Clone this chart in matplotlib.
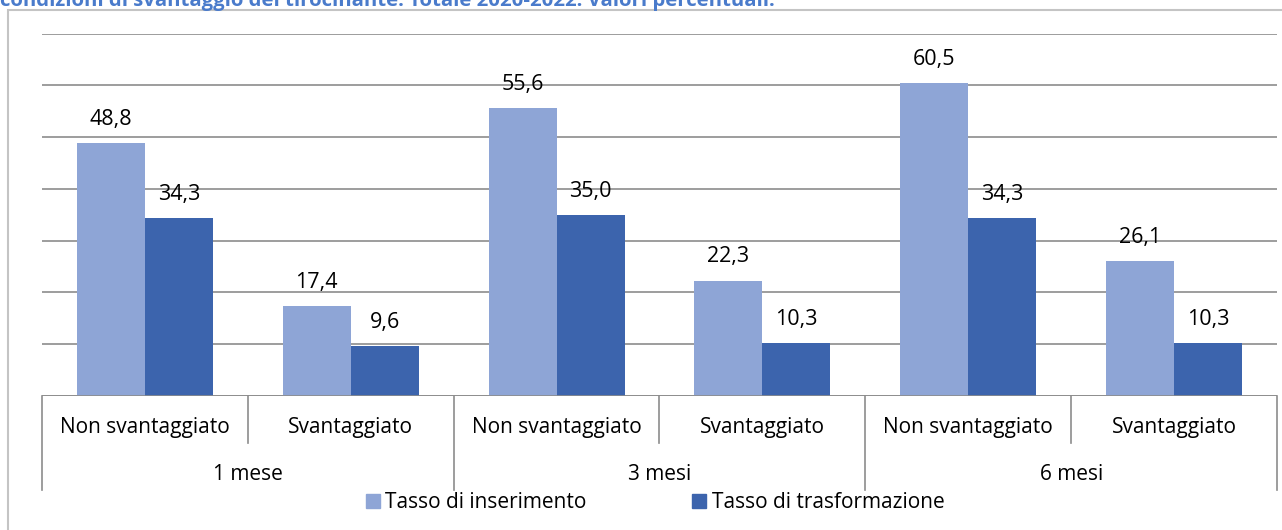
import matplotlib
matplotlib.use("Agg")
import matplotlib.pyplot as plt
from matplotlib.patches import Patch, Rectangle
from matplotlib.lines import Line2D
import numpy as np

plt.rcParams['font.family'] = ['Open Sans', 'DejaVu Sans']

periods = ["1 mese", "3 mesi", "6 mesi"]
conditions = ["Non svantaggiato", "Svantaggiato"]
series_names = ["Tasso di inserimento", "Tasso di trasformazione"]
inserimento = [48.8, 17.4, 55.6, 22.3, 60.5, 26.1]
trasformazione = [34.3, 9.6, 35.0, 10.3, 34.3, 10.3]
title = "condizioni di svantaggio del tirocinante. Totale 2020-2022. Valori percentuali."

c_light = "#8EA5D6"
c_dark = "#3C64AD"
grid_c = "#8C8C8C"

W, H = 1282, 530
fig = plt.figure(figsize=(W / 100, H / 100), dpi=100)

# outer chart frame
fig.patches.append(Rectangle((8 / W, -0.05), 1.2, 1 - 10 / H + 0.05,
                             transform=fig.transFigure, fill=False,
                             edgecolor="#C4C4C4", lw=1.5))

fig.text(0 / W, 1 - 6 / H, title, ha="left", va="baseline",
         fontsize=14.7, fontweight="bold", color="#4A7BCB")

left, right = 42 / W, 1277 / W
bottom = (H - 396) / H
top = (H - 33.6) / H
ax = fig.add_axes([left, bottom, right - left, top - bottom])

n = len(inserimento)
x = np.arange(n)
bw = 0.33
b1 = ax.bar(x - bw / 2, inserimento, bw, color=c_light, zorder=3)
b2 = ax.bar(x + bw / 2, trasformazione, bw, color=c_dark, zorder=3)

for bars, vals in ((b1, inserimento), (b2, trasformazione)):
    for rect, v in zip(bars, vals):
        ax.annotate(f"{v:.1f}".replace(".", ","),
                    (rect.get_x() + rect.get_width() / 2, v),
                    xytext=(0, 13), textcoords="offset points",
                    ha="center", va="baseline", fontsize=15.5, color="#000000")

ax.set_xlim(-0.5, n - 0.5)
ax.set_ylim(0, 70)
ax.set_yticks(np.arange(0, 71, 10))
ax.yaxis.grid(True, color=grid_c, lw=1.2, zorder=0)
ax.tick_params(left=False, labelleft=False, bottom=False, labelbottom=False)
for s in ax.spines.values():
    s.set_visible(False)
ax.axhline(0, color=grid_c, lw=1.2, zorder=4)

# category axis: two label levels with separators
trans = ax.get_xaxis_transform()
def ax_y(px):
    return -(px - 396) / (396 - 33.6)

for i in range(n + 1):
    xb = i - 0.5
    long_line = (i % 2 == 0)
    y_end = ax_y(490) if long_line else ax_y(443)
    ax.add_line(Line2D([xb, xb], [0, y_end], transform=trans, color=grid_c,
                       lw=1.2, clip_on=False))

for i in range(n):
    ax.text(i, ax_y(427), conditions[i % 2], transform=trans, ha="center",
            va="center", fontsize=15)
for j, p in enumerate(periods):
    ax.text(2 * j + 0.5, ax_y(475), p, transform=trans, ha="center",
            va="center", fontsize=15)

handles = [Patch(color=c_light), Patch(color=c_dark)]
fig.legend(handles, series_names, loc="center", bbox_to_anchor=(655 / W, 1 - 503 / H),
           ncol=2, frameon=False, fontsize=15, handlelength=0.67, handleheight=0.67,
           handletextpad=0.25, columnspacing=5.1, borderpad=0, borderaxespad=0)

fig.savefig("out.png", dpi=100)
